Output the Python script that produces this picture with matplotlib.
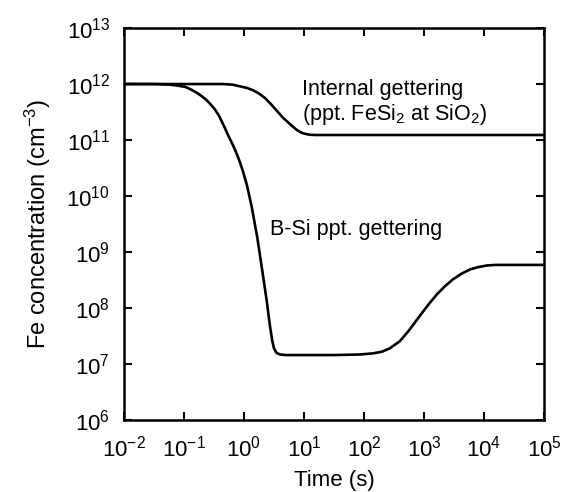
import numpy as np
import matplotlib
matplotlib.use("Agg")
import matplotlib.pyplot as plt

plt.rcParams['font.family'] = ['Liberation Sans', 'DejaVu Sans']
plt.rcParams['mathtext.fontset'] = 'custom'
plt.rcParams['mathtext.rm'] = 'Liberation Sans'
plt.rcParams['mathtext.it'] = 'Liberation Sans'

# curva do gettering interno (log10 do tempo, log10 da concentração)
log_t_interno = [-2.0, -0.6, -0.35, -0.2, -0.07, 0.05, 0.15, 0.25, 0.35, 0.45, 0.55,
                 0.65, 0.77, 0.88, 0.96, 1.02, 1.1, 1.18, 1.5, 5.0]
log_c_interno = [12.0, 12.0, 12.0, 11.99, 11.96, 11.93, 11.89, 11.83, 11.75, 11.64, 11.52,
                 11.4, 11.28, 11.18, 11.13, 11.11, 11.095, 11.09, 11.09, 11.09]

# curva do gettering por precipitado B-Si
log_t_bsi = [-2.0, -1.5, -1.23, -1.1, -0.98, -0.88, -0.78, -0.7, -0.62, -0.55, -0.48,
             -0.42, -0.37, -0.32, -0.28, -0.23, -0.18, -0.12, -0.07, -0.02, 0.05,
             0.13, 0.22, 0.3, 0.38, 0.43, 0.47, 0.5, 0.54, 0.6, 0.7, 1.0, 1.5, 1.93,
             2.15, 2.3, 2.43, 2.6, 2.75, 2.93, 3.08, 3.22, 3.35, 3.48, 3.62, 3.77,
             3.9, 4.05, 4.2, 4.43, 5.0]
log_c_bsi = [12.0, 12.0, 11.99, 11.97, 11.95, 11.9, 11.84, 11.78, 11.71, 11.63, 11.54,
             11.44, 11.33, 11.22, 11.12, 11.01, 10.9, 10.75, 10.61, 10.45, 10.19,
             9.8, 9.27, 8.7, 8.12, 7.7, 7.42, 7.28, 7.2, 7.17, 7.16, 7.16, 7.16, 7.17,
             7.19, 7.22, 7.28, 7.41, 7.6, 7.86, 8.07, 8.25, 8.39, 8.51, 8.61, 8.69,
             8.73, 8.76, 8.77, 8.77, 8.77]

fig = plt.figure(figsize=(5.67, 4.92), dpi=100)
ax = fig.add_axes([0.2187, 0.1463, 0.7407, 0.7967])

ax.plot(10.0 ** np.array(log_t_interno), 10.0 ** np.array(log_c_interno),
        color='black', lw=1.9, solid_capstyle='butt')
ax.plot(10.0 ** np.array(log_t_bsi), 10.0 ** np.array(log_c_bsi),
        color='black', lw=1.9, solid_capstyle='butt')

ax.set_xscale('log')
ax.set_yscale('log')
ax.set_xlim(1e-2, 1e5)
ax.set_ylim(1e6, 1e13)
ax.set_xticks([10.0 ** k for k in range(-2, 6)])
ax.set_yticks([10.0 ** k for k in range(6, 14)])
ax.minorticks_off()
ax.tick_params(direction='in', top=True, right=True, length=6, width=1.5,
               labelsize=16)
ax.tick_params(axis='x', pad=11)
ax.tick_params(axis='y', pad=10)
for s in ax.spines.values():
    s.set_linewidth(1.8)

ax.set_xlabel('Time (s)', fontsize=16, labelpad=6)
ax.set_ylabel('Fe concentration (cm$^{-3}$)', fontsize=17, labelpad=10)

ax.text(9.3, 10 ** 11.80, 'Internal gettering', fontsize=15.5, va='baseline', ha='left')
ax.text(9.3, 10 ** 11.36, '(ppt. FeSi$_2$ at SiO$_2$)', fontsize=15.5, va='baseline', ha='left')
ax.text(2.7, 10 ** 9.30, 'B-Si ppt. gettering', fontsize=15.5, va='baseline', ha='left')

fig.savefig('out.png', dpi=100)
